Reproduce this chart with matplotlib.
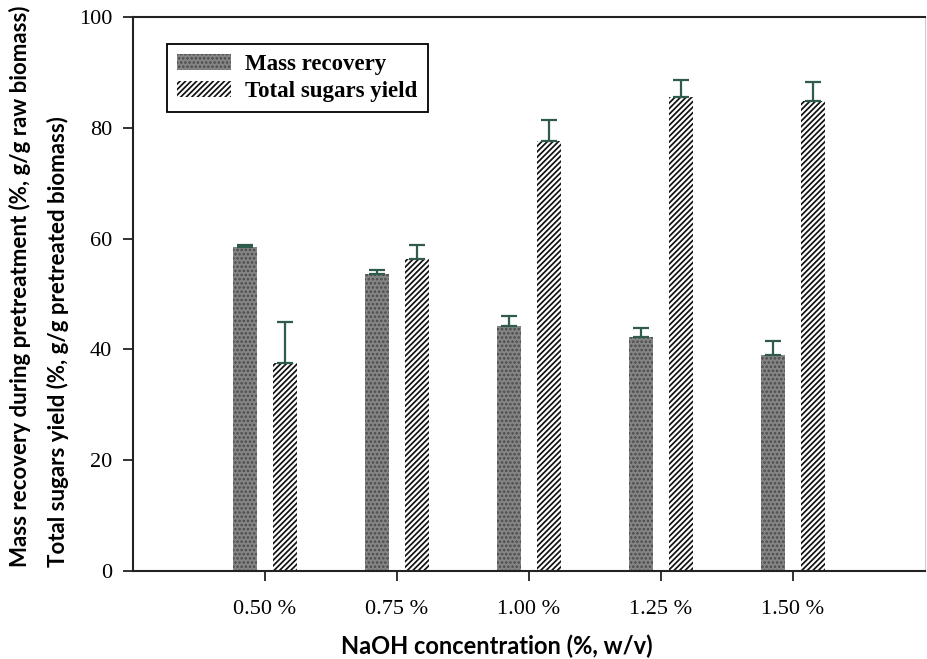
import matplotlib
matplotlib.use("Agg")
import matplotlib.pyplot as plt
import numpy as np

# data
conc = ['0.50 %', '0.75 %', '1.00 %', '1.25 %', '1.50 %']
mass_recovery = [58.4, 53.6, 44.2, 42.3, 39.0]
mass_err = [0.5, 0.7, 1.8, 1.6, 2.5]
sugars_yield = [37.5, 56.4, 77.6, 85.5, 84.9]
sugars_err = [7.4, 2.4, 3.8, 3.1, 3.3]

plt.rcParams['hatch.linewidth'] = 1.25

W, H = 927, 659
fig = plt.figure(figsize=(W / 100, H / 100), dpi=100)
ax = fig.add_axes([133 / W, 1 - 571 / H, (925 - 133) / W, (571 - 17) / H])

serif = 'Liberation Serif'
sans = 'Lato'
err_col = '#2f5b4c'

x = np.arange(1, len(conc) + 1)
bw = 0.18
off = 0.152

ax.bar(x - off, mass_recovery, bw, color='#858585', edgecolor='#4a4a4a',
       linewidth=0, hatch='....', label='Mass recovery', zorder=2)
ax.bar(x + off, sugars_yield, bw, color='white', edgecolor='#111111',
       linewidth=0, hatch='//////', label='Total sugars yield', zorder=2)

ax.errorbar(x - off, mass_recovery, yerr=[np.zeros(5), mass_err], fmt='none',
            ecolor=err_col, elinewidth=1.6, capsize=5.8, capthick=1.6, zorder=3)
ax.errorbar(x + off, sugars_yield, yerr=[np.zeros(5), sugars_err], fmt='none',
            ecolor=err_col, elinewidth=1.6, capsize=5.8, capthick=1.6, zorder=3)

ax.set_xlim(0, 6)
ax.set_ylim(0, 100)
ax.set_xticks(x)
ax.set_xticklabels(conc, fontfamily=serif, fontsize=16)
ax.set_yticks(range(0, 101, 20))
ax.set_yticklabels([str(v) for v in range(0, 101, 20)], fontfamily=serif, fontsize=16)
ax.tick_params(axis='both', direction='out', length=7, width=1.3, color='#222222')
ax.tick_params(axis='x', pad=14)
ax.tick_params(axis='y', pad=8)

for s in ['left', 'bottom', 'top']:
    ax.spines[s].set_linewidth(1.5)
    ax.spines[s].set_color('#222222')
ax.spines['right'].set_color('#cccccc')
ax.spines['right'].set_linewidth(0.8)

leg = ax.legend(loc='upper left', bbox_to_anchor=(0.043, 0.952), fancybox=False,
                edgecolor='black', framealpha=1, handlelength=2.35, handleheight=0.7,
                labelspacing=0.25, borderpad=0.45, borderaxespad=0, handletextpad=0.6,
                prop={'family': serif, 'weight': 'bold', 'size': 16.5})
leg.get_frame().set_linewidth(1.3)

# axis titles placed by hand like in the reference
fig.text(27 / W, 1 - 567 / H, 'Mass recovery during pretreatment (%, g/g raw biomass)',
         rotation=90, rotation_mode='anchor', ha='left', va='baseline',
         fontfamily=sans, fontweight='bold', fontsize=16)
fig.text(65 / W, 1 - 567 / H, 'Total sugars yield (%, g/g pretreated biomass)',
         rotation=90, rotation_mode='anchor', ha='left', va='baseline',
         fontfamily=sans, fontweight='bold', fontsize=16)
fig.text(497 / W, 1 - 654 / H, 'NaOH concentration (%, w/v)', ha='center', va='baseline',
         fontfamily=sans, fontweight='bold', fontsize=17)

fig.savefig('out.png', dpi=100)
